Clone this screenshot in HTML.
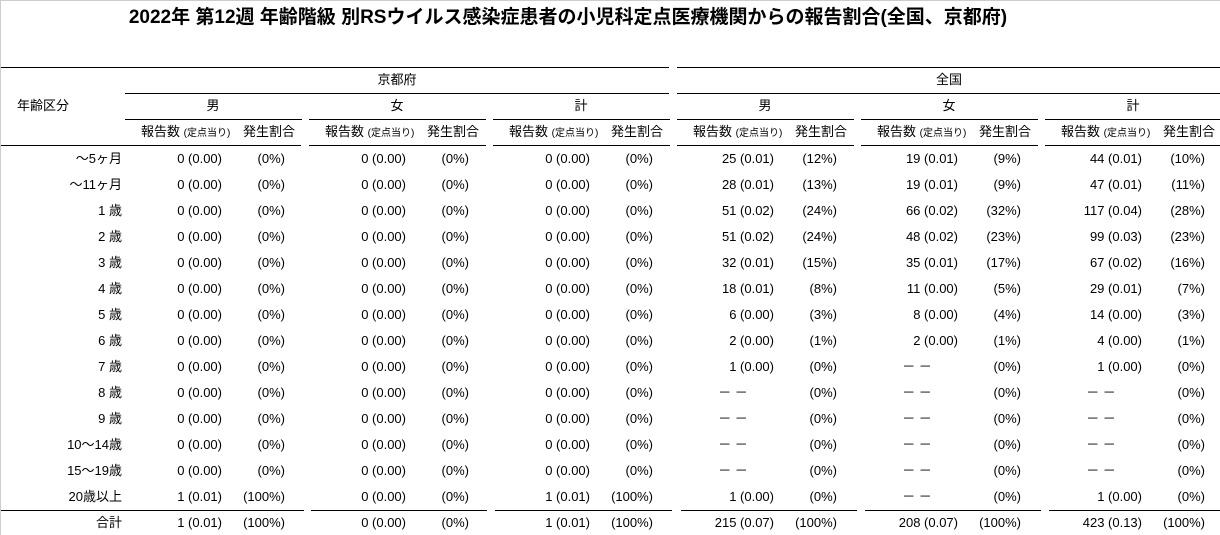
<!DOCTYPE html>
<html><head><meta charset="utf-8"><style>
html,body{margin:0;padding:0;background:#fff}
#c{position:relative;width:1220px;height:535px;overflow:hidden;font-family:"Liberation Sans","Noto Sans CJK JP",sans-serif;font-size:13px;color:#000;box-sizing:border-box;border-left:1px solid #ccc;border-top:1px solid #ccc}
.t{position:absolute;white-space:nowrap;line-height:16px}
.l{position:absolute;height:1px;background:#000}
.s{font-size:10px}
</style></head><body><div id="c">
<div class="t" style="left:0;width:1134px;text-align:center;top:6px;font-size:19px;font-weight:bold;line-height:22px">2022年 第12週 年齢階級 別RSウイルス感染症患者の小児科定点医療機関からの報告割合(全国、京都府)</div>
</div>
<script>
var c=document.getElementById('c');
function T(x,y,txt,al,w){var d=document.createElement('div');d.className='t';d.innerHTML=txt;
 if(al==='r'){d.style.left=(x-w)+'px';d.style.width=w+'px';d.style.textAlign='right';}
 else if(al==='c'){d.style.left=(x-w/2)+'px';d.style.width=w+'px';d.style.textAlign='center';}
 else d.style.left=x+'px';
 d.style.top=(y-8)+'px';c.appendChild(d);}
function L(x1,x2,y){var d=document.createElement('div');d.className='l';d.style.left=x1+'px';d.style.width=(x2-x1)+'px';d.style.top=y+'px';c.appendChild(d);}
L(0,668,66);L(676,1220,66);
L(124,668,92);L(676,1220,92);
var G=[124,308,492,676,860,1044];
G.forEach(function(g,i){L(i==0?124:g,g+177,118);});
L(0,300,144);G.slice(1).forEach(function(g){L(g,g+177,144);});
L(0,303,509);L(310,486,509);L(494,671,509);L(680,856,509);L(864,1040,509);L(1048,1220,509);
L(0,668,534);L(676,1220,534);
T(396,79,'京都府','c',100);T(948,79,'全国','c',100);
T(42,105,'年齢区分','c',100);
var sx=['男','女','計','男','女','計'];
G.forEach(function(g,i){T(g+88,105,sx[i],'c',60);
 T(g+16,131,'報告数 <span class="s">(定点当り)</span>','l');T(g+170,131,'発生割合','r',80);});
var rows=['～5ヶ月','～11ヶ月','1 歳','2 歳','3 歳','4 歳','5 歳','6 歳','7 歳','8 歳','9 歳','10～14歳','15～19歳','20歳以上','合計'];
var nat=[
[['25 (0.01)','(12%)'],['19 (0.01)','(9%)'],['44 (0.01)','(10%)']],
[['28 (0.01)','(13%)'],['19 (0.01)','(9%)'],['47 (0.01)','(11%)']],
[['51 (0.02)','(24%)'],['66 (0.02)','(32%)'],['117 (0.04)','(28%)']],
[['51 (0.02)','(24%)'],['48 (0.02)','(23%)'],['99 (0.03)','(23%)']],
[['32 (0.01)','(15%)'],['35 (0.01)','(17%)'],['67 (0.02)','(16%)']],
[['18 (0.01)','(8%)'],['11 (0.00)','(5%)'],['29 (0.01)','(7%)']],
[['6 (0.00)','(3%)'],['8 (0.00)','(4%)'],['14 (0.00)','(3%)']],
[['2 (0.00)','(1%)'],['2 (0.00)','(1%)'],['4 (0.00)','(1%)']],
[['1 (0.00)','(0%)'],['－－','(0%)'],['1 (0.00)','(0%)']],
[['－－','(0%)'],['－－','(0%)'],['－－','(0%)']],
[['－－','(0%)'],['－－','(0%)'],['－－','(0%)']],
[['－－','(0%)'],['－－','(0%)'],['－－','(0%)']],
[['－－','(0%)'],['－－','(0%)'],['－－','(0%)']],
[['1 (0.00)','(0%)'],['－－','(0%)'],['1 (0.00)','(0%)']],
[['215 (0.07)','(100%)'],['208 (0.07)','(100%)'],['423 (0.13)','(100%)']]];
rows.forEach(function(r,i){var y=i<14?158+26*i:522;
 T(121,y,r,'r',110);
 var k=(i>=13)?[['1 (0.01)','(100%)'],['0 (0.00)','(0%)'],['1 (0.01)','(100%)']]:[['0 (0.00)','(0%)'],['0 (0.00)','(0%)'],['0 (0.00)','(0%)']];
 var all=k.concat(nat[i]);
 all.forEach(function(v,j){var g=G[j];
  if(v[0]==='－－')T(g+56,y,'－ －','c',40);else T(g+97,y,v[0],'r',90);
  T(g+160,y,v[1],'r',60);});
});
</script>
</body></html>
